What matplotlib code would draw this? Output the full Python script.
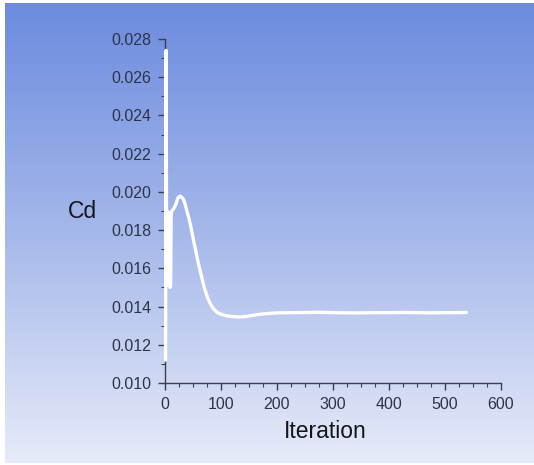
import numpy as np
import matplotlib
matplotlib.use("Agg")
import matplotlib.pyplot as plt
from matplotlib.ticker import MultipleLocator, FormatStrFormatter

plt.rcParams['font.family'] = ['Liberation Sans', 'DejaVu Sans']

iterations = [1, 2, 3, 4, 5, 6, 7, 8, 9, 10, 11, 12, 14, 17, 20, 22, 24, 27, 30, 33,
              36, 39, 42, 46, 50, 55, 60, 65, 70, 75, 80, 86, 93, 100, 111, 122, 134,
              145, 157, 170, 185, 200, 225, 250, 275, 300, 325, 350, 375, 400, 425,
              450, 475, 500, 520, 538]
cd = [0.0112, 0.0274, 0.0151, 0.0190, 0.0153, 0.0189, 0.0151, 0.0189, 0.0150, 0.0151,
      0.0188, 0.0190, 0.01905, 0.0192, 0.0194, 0.0196, 0.01972, 0.01978, 0.01972, 0.0196,
      0.01935, 0.0190, 0.0187, 0.0182, 0.0176, 0.0169, 0.0162, 0.0156, 0.0150, 0.01455,
      0.0142, 0.0139, 0.0137, 0.01360, 0.01351, 0.01347, 0.01345, 0.01348, 0.01354,
      0.01360, 0.01364, 0.01367, 0.01368, 0.01369, 0.01370, 0.01368, 0.01367, 0.01367,
      0.01368, 0.01368, 0.01369, 0.01368, 0.01367, 0.01368, 0.01368, 0.01369]

x_label = "Iteration"
y_label = "Cd"

W, H = 534, 465
fig = plt.figure(figsize=(W / 100, H / 100), dpi=100)
fig.patch.set_facecolor('white')

# gradient background panel
bg = fig.add_axes([5 / W, 2 / H, (W - 5) / W, (H - 5) / H])
top = np.array([108, 139, 223]) / 255
mid = np.array([165, 184, 234]) / 255
bot = np.array([231, 235, 249]) / 255
t = np.linspace(0, 1, 256)[:, None]
grad = np.where(t < 0.5, top + (mid - top) * (t / 0.5), mid + (bot - mid) * ((t - 0.5) / 0.5))
bg.imshow(grad[:, None, :].repeat(2, axis=1), aspect='auto', extent=[0, 1, 0, 1])
bg.set_axis_off()

ax = fig.add_axes([165 / W, 1 - 383 / H, (501 - 165) / W, (383 - 39) / H])
ax.patch.set_alpha(0)
ax.plot(iterations, cd, color='white', lw=2.4, solid_joinstyle='round',
        solid_capstyle='round', clip_on=False, zorder=3)

ax.set_xlim(0, 600)
ax.set_ylim(0.010, 0.028)
ax.xaxis.set_major_locator(MultipleLocator(100))
ax.xaxis.set_minor_locator(MultipleLocator(25))
ax.yaxis.set_major_locator(MultipleLocator(0.002))
ax.yaxis.set_minor_locator(MultipleLocator(0.001))
ax.yaxis.set_major_formatter(FormatStrFormatter('%.3f'))

for s in ['top', 'right']:
    ax.spines[s].set_visible(False)
axis_col = '#3c3f4a'
for s in ['left', 'bottom']:
    ax.spines[s].set_color(axis_col)
    ax.spines[s].set_linewidth(1.0)
    ax.spines[s].set_zorder(2)

ax.tick_params(which='major', direction='out', length=5, width=1, color=axis_col,
               labelsize=11.5, labelcolor='#2e3448', pad=5)
ax.tick_params(which='minor', direction='out', length=3, width=0.8, color=axis_col)

fig.text(82 / W, 1 - 211 / H, y_label, fontsize=16.5, color='#15151a', ha='center', va='center')
fig.text(325 / W, 1 - 431 / H, x_label, fontsize=16.5, color='#15151a', ha='center', va='center')

fig.savefig('out.png', dpi=100)
